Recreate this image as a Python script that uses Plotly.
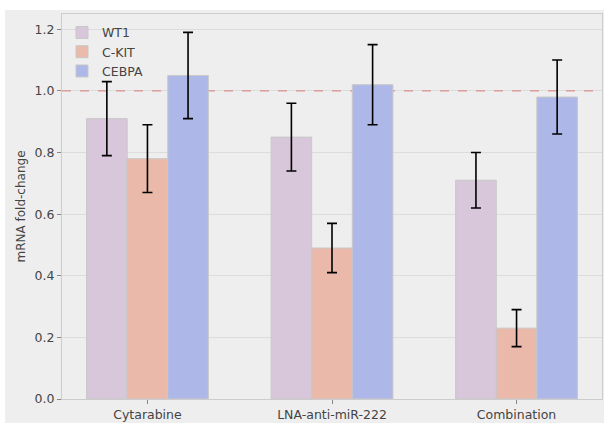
import plotly.graph_objects as go

categories = ["Cytarabine", "LNA-anti-miR-222", "Combination"]
genes = ["WT1", "C-KIT", "CEBPA"]
wt1 = [0.91, 0.85, 0.71]
wt1_err = [0.12, 0.11, 0.09]
ckit = [0.78, 0.49, 0.23]
ckit_err = [0.11, 0.08, 0.06]
cebpa = [1.05, 1.02, 0.98]
cebpa_err = [0.14, 0.13, 0.12]
reference_level = 1.0
colors = ["#d8c6da", "#eab9a9", "#adb8e8"]

fig = go.Figure()
for name, vals, errs, col in zip(genes, [wt1, ckit, cebpa], [wt1_err, ckit_err, cebpa_err], colors):
    fig.add_trace(go.Bar(
        x=categories, y=vals, name=name,
        marker=dict(color=col, line=dict(color="#c8c8c8", width=1)),
        error_y=dict(type="data", array=errs, visible=True, color="black", thickness=1.6, width=5),
    ))

fig.add_shape(type="line", xref="x", yref="y", x0=-0.463, x1=2.463, y0=reference_level, y1=reference_level,
              line=dict(color="#d97a7a", width=1, dash="dash"), layer="between")

fig.update_layout(
    width=604, height=423,
    margin=dict(l=62, r=2, t=14, b=24),
    paper_bgcolor="#eeeeee", plot_bgcolor="#eeeeee",
    font=dict(family="DejaVu Sans", size=12, color="#444444"),
    barmode="group", bargap=0.34, bargroupgap=0,
    showlegend=True,
    legend=dict(x=0.0, y=0.99, xanchor="left", yanchor="top", bgcolor="rgba(0,0,0,0)",
                font=dict(size=12.5, color="#444444"), tracegroupgap=0),
)
fig.update_xaxes(
    range=[-0.463, 2.463], showgrid=False, showline=True, mirror=True, linecolor="#cccccc",
    ticks="outside", ticklen=4, tickcolor="#888888", tickfont=dict(size=12.5, color="#444444"),
)
fig.update_yaxes(
    range=[0, 1.2495], dtick=0.2, tickformat=".1f", showgrid=True, gridcolor="#dcdcdc",
    showline=True, mirror=True, linecolor="#cccccc", zeroline=False,
    ticks="outside", ticklen=4, tickcolor="#888888", tickfont=dict(size=12.5, color="#444444"),
    title=dict(text="mRNA fold-change", font=dict(size=12, color="#444444"), standoff=6),
)
# white strips of the original image crop (top and left)
fig.add_shape(type="rect", xref="paper", yref="paper", x0=-62/540, x1=542/540, y0=1+4/385, y1=1+14/385,
              fillcolor="white", line_width=0, layer="above")
fig.add_shape(type="rect", xref="paper", yref="paper", x0=-62/540, x1=-57/540, y0=-24/385, y1=1+14/385,
              fillcolor="white", line_width=0, layer="above")

fig.write_html("out.html")
